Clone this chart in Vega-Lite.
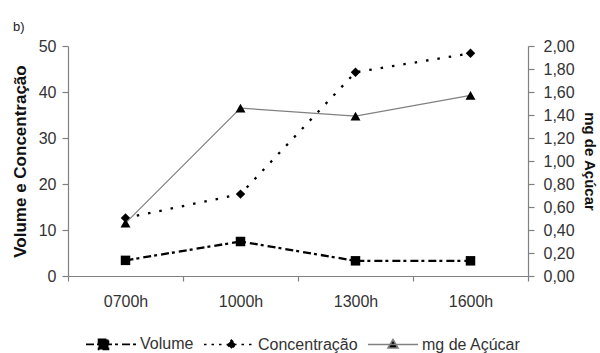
{
  "$schema": "https://vega.github.io/schema/vega-lite/v6.json",
  "width": 460,
  "height": 230,
  "autosize": {"type": "none"},
  "padding": {"left": 68, "top": 46, "right": 72, "bottom": 77},
  "background": "white",
  "title": {"text": "b)", "anchor": "start", "frame": "group", "dx": -55, "dy": 5, "offset": 9, "fontSize": 13, "fontWeight": "normal", "font": "Liberation Sans", "color": "#222"},
  "config": {
    "view": {"stroke": null},
    "font": "Liberation Sans",
    "axis": {"domainColor": "#808080", "tickColor": "#808080", "labelColor": "#333333", "labelFont": "Liberation Sans", "labelFontSize": 16, "titleFont": "Liberation Sans", "titleFontWeight": "bold", "titleColor": "#111111", "grid": false, "domainWidth": 1.2, "tickWidth": 1.2},
    "legend": {"orient": "none", "legendX": 17, "legendY": 272, "direction": "horizontal", "symbolSize": 2500, "symbolStrokeWidth": 1.6, "symbolOpacity": 1, "labelFontSize": 16, "labelColor": "#333333", "labelFont": "Liberation Sans", "labelOffset": 3, "columnPadding": 6}
  },
  "data": {
    "values": [
      {"hora": "0700h", "serie": "Volume", "valor": 3.4},
      {"hora": "1000h", "serie": "Volume", "valor": 7.5},
      {"hora": "1300h", "serie": "Volume", "valor": 3.3},
      {"hora": "1600h", "serie": "Volume", "valor": 3.3},
      {"hora": "0700h", "serie": "Concentração", "valor": 12.6},
      {"hora": "1000h", "serie": "Concentração", "valor": 17.8},
      {"hora": "1300h", "serie": "Concentração", "valor": 44.3},
      {"hora": "1600h", "serie": "Concentração", "valor": 48.4},
      {"hora": "0700h", "serie": "mg de Açúcar", "valor": 0.46},
      {"hora": "1000h", "serie": "mg de Açúcar", "valor": 1.46},
      {"hora": "1300h", "serie": "mg de Açúcar", "valor": 1.39},
      {"hora": "1600h", "serie": "mg de Açúcar", "valor": 1.57}
    ]
  },
  "encoding": {
    "x": {"field": "hora", "type": "nominal", "bandPosition": 0.5,
      "scale": {"type": "band", "paddingInner": 0, "paddingOuter": 0, "domain": ["0700h", "1000h", "1300h", "1600h"]},
      "axis": {"title": null, "labelAngle": 0, "tickBand": "extent", "tickSize": 5, "labelPadding": 12}}
  },
  "layer": [
    {
      "transform": [{"filter": "datum.serie !== 'mg de Açúcar'"}],
      "encoding": {
        "y": {"field": "valor", "type": "quantitative", "scale": {"domain": [0, 50], "nice": false},
          "axis": {"orient": "left", "values": [0, 10, 20, 30, 40, 50], "title": "Volume e Concentração", "titleFontSize": 17, "tickSize": 6, "labelPadding": 6, "titlePadding": 9}}
      },
      "layer": [
        {
          "mark": {"type": "line", "color": "#000000", "strokeWidth": 2.3},
          "encoding": {
            "detail": {"field": "serie", "type": "nominal"},
            "strokeDash": {"condition": {"test": "datum.serie === 'Volume'", "value": [8, 3, 3, 4]}, "value": [2.5, 9]}
          }
        },
        {
          "mark": {"type": "point", "filled": true, "opacity": 1, "color": "#000000"},
          "encoding": {
            "shape": {"condition": {"test": "datum.serie === 'Volume'", "value": "square"}, "value": "diamond"},
            "size": {"value": 90}
          }
        },
        {
          "mark": {"type": "point", "size": 0},
          "encoding": {
            "shape": {"field": "serie", "type": "nominal", "legend": {"title": null},
              "scale": {"domain": ["Volume", "Concentração", "mg de Açúcar"], "range": ["M-1,0L1,0M-0.5,-0.2L-0.1,-0.2L-0.1,0.2L-0.5,0.2Z", "M-1,0L1,0M0.1,-0.17L0.27,0L0.1,0.17L-0.07,0Z", "M-1,0L1,0M0,-0.2L0.2,0.14L-0.2,0.14Z"]}},
            "fill": {"field": "serie", "type": "nominal", "legend": {"title": null},
              "scale": {"domain": ["Volume", "Concentração", "mg de Açúcar"], "range": ["#000000", "#000000", "#000000"]}},
            "stroke": {"field": "serie", "type": "nominal", "legend": {"title": null},
              "scale": {"domain": ["Volume", "Concentração", "mg de Açúcar"], "range": ["#000000", "#000000", "#808080"]}},
            "strokeDash": {"field": "serie", "type": "nominal", "legend": {"title": null},
              "scale": {"domain": ["Volume", "Concentração", "mg de Açúcar"], "range": [[8, 3, 3, 4], [2.5, 5], [1, 0]]}}
          }
        }
      ]
    },
    {
      "transform": [{"filter": "datum.serie === 'mg de Açúcar'"}],
      "encoding": {
        "y": {"field": "valor", "type": "quantitative", "scale": {"domain": [0, 2], "nice": false},
          "axis": {"orient": "right", "values": [0, 0.2, 0.4, 0.6, 0.8, 1, 1.2, 1.4, 1.6, 1.8, 2], "labelExpr": "replace(format(datum.value, '.2f'), '.', ',')", "title": "mg de Açúcar", "titleFontSize": 15, "tickSize": 6, "labelPadding": 9, "titlePadding": 7}}
      },
      "layer": [
        {
          "mark": {"type": "line", "color": "#808080", "strokeWidth": 1.2},
          "encoding": {}
        },
        {
          "mark": {"type": "point", "filled": true, "opacity": 1, "color": "#000000", "shape": "triangle-up", "size": 100},
          "encoding": {}
        }
      ]
    }
  ],
  "resolve": {"scale": {"y": "independent"}}
}
